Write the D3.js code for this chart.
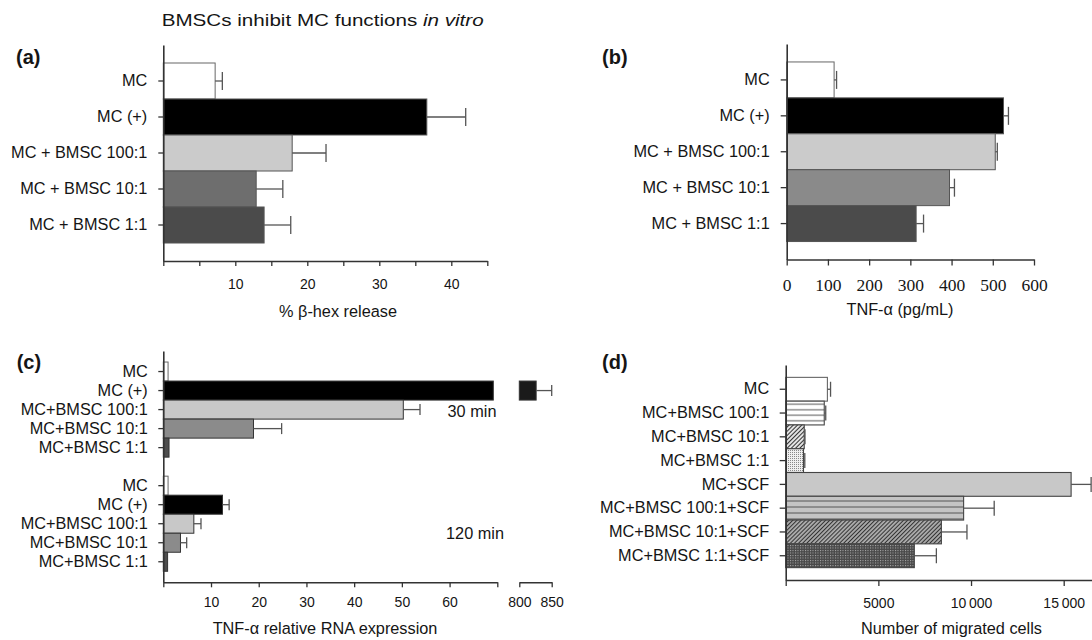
<!DOCTYPE html>
<html><head><meta charset="utf-8">
<script src="https://cdn.jsdelivr.net/npm/d3@7/dist/d3.min.js"></script>
<style>
html,body{margin:0;padding:0;background:#fff;}
svg{display:block;font-family:"Liberation Sans",Arial,Helvetica,sans-serif;}
</style></head><body>
<script>
// ---------- data ----------
const labelsAB = ["MC", "MC (+)", "MC + BMSC 100:1", "MC + BMSC 10:1", "MC + BMSC 1:1"];
const hexRelease = [7.2, 36.6, 17.9, 12.9, 14.0];
const hexError = [1.0, 5.4, 4.7, 3.7, 3.7];
const hexTicks = [0, 5, 10, 15, 20, 25, 30, 35, 40, 45];
const hexTickLabels = [10, 20, 30, 40];

const tnfProtein = [115, 526, 506, 395, 314];
const tnfProteinError = [6, 12, 5, 12, 18];
const tnfTicks = [0, 100, 200, 300, 400, 500, 600];

const labelsC = ["MC", "MC (+)", "MC+BMSC 100:1", "MC+BMSC 10:1", "MC+BMSC 1:1"];
const timepoints = ["30 min", "120 min"];
const rna30 = [1.0, 826, 50.3, 18.9, 1.2];
const rna30Error = [0, 24, 3.5, 5.9, 0];
const rna120 = [1.0, 12.4, 6.4, 3.6, 0.9];
const rna120Error = [0, 1.4, 1.5, 1.3, 0];
const rnaTicks = [0, 10, 20, 30, 40, 50, 60, 70];
const rnaTickLabels = [10, 20, 30, 40, 50, 60];
const rnaBreakTicks = [800, 850];

const labelsD = ["MC", "MC+BMSC 100:1", "MC+BMSC 10:1", "MC+BMSC 1:1", "MC+SCF",
  "MC+BMSC 100:1+SCF", "MC+BMSC 10:1+SCF", "MC+BMSC 1:1+SCF"];
const migrated = [2250, 2080, 1000, 960, 15400, 9600, 8400, 6940];
const migratedError = [170, 80, 40, 70, 1080, 1650, 1380, 1190];
const migTicks = [0, 5000, 10000, 15000];
const migTickLabels = ["", "5000", "10\u2009000", "15\u2009000"];

// ---------- styles ----------
const fillsA = ["#ffffff", "#000000", "#cbcbcb", "#6e6e6e", "#4b4b4b"];
const fillsB = ["#ffffff", "#000000", "#cbcbcb", "#8a8a8a", "#4b4b4b"];
const fillsC = ["#ffffff", "#000000", "#c8c8c8", "#8b8b8b", "#4d4d4d"];
const fillsD = ["#ffffff", "url(#hlw)", "url(#dgl)", "url(#dtl)", "#c8c8c8", "url(#hlg)", "url(#dgd)", "url(#dtd)"];
const SANS = '"Liberation Sans", Arial, Helvetica, sans-serif';
const SERIF = '"Liberation Serif", "Times New Roman", serif';
const INK = "#151515";

const svg = d3.select("body").append("svg").attr("width", 1092).attr("height", 640);
svg.append("rect").attr("width", 1092).attr("height", 640).attr("fill", "#fff");

// ---------- patterns ----------
const defs = svg.append("defs");
function hLines(id, bg, fg, h) {
  const p = defs.append("pattern").attr("id", id).attr("patternUnits", "userSpaceOnUse")
    .attr("width", 8).attr("height", h);
  p.append("rect").attr("width", 8).attr("height", h).attr("fill", bg);
  p.append("line").attr("x1", 0).attr("x2", 8).attr("y1", h / 2).attr("y2", h / 2)
    .attr("stroke", fg).attr("stroke-width", 1);
}
function diag(id, bg, fg, s) {
  const p = defs.append("pattern").attr("id", id).attr("patternUnits", "userSpaceOnUse")
    .attr("width", s).attr("height", s).attr("patternTransform", "rotate(45)");
  p.append("rect").attr("width", s).attr("height", s).attr("fill", bg);
  p.append("line").attr("x1", 0.5).attr("x2", 0.5).attr("y1", 0).attr("y2", s)
    .attr("stroke", fg).attr("stroke-width", 1);
}
function dots(id, bg, fg, s) {
  const p = defs.append("pattern").attr("id", id).attr("patternUnits", "userSpaceOnUse")
    .attr("width", s).attr("height", s);
  p.append("rect").attr("width", s).attr("height", s).attr("fill", bg);
  p.append("rect").attr("x", 0).attr("y", 0).attr("width", 1).attr("height", 1).attr("fill", fg);
}
hLines("hlw", "#ffffff", "#555", 5.5);
hLines("hlg", "#c4c4c4", "#555", 6);
diag("dgl", "#e2e2e2", "#333", 3);
diag("dgd", "#aaaaaa", "#333", 2.9);
dots("dtl", "#eeeeee", "#888", 2);
dots("dtd", "#4a4a4a", "#b0b0b0", 2.5);

// ---------- helpers ----------
function styleAxis(sel, size, family) {
  sel.attr("font-size", null).attr("font-family", null);
  sel.select(".domain").attr("stroke", "#333").attr("stroke-width", 1.6);
  sel.selectAll(".tick line").attr("stroke", "#333").attr("stroke-width", 1.3);
  sel.selectAll("text").attr("font-size", size).style("font-family", family).attr("fill", INK);
}
function drawBars(g, rows, x, y, o) {
  const xmax = x.range()[1];
  g.selectAll(null).data(rows).join("rect")
    .attr("x", x(0)).attr("y", d => y(d.key))
    .attr("width", d => Math.min(x(d.value), o.clip ? xmax - o.clip : Infinity) - x(0))
    .attr("height", y.bandwidth())
    .attr("fill", d => d.fill).attr("stroke", d => d.fill === "#ffffff" ? "#666" : o.stroke)
    .attr("stroke-width", o.sw);
  const eb = rows.filter(d => d.err > 0 && x(d.value) <= xmax);
  const cy = d => y(d.key) + y.bandwidth() / 2;
  g.selectAll(null).data(eb).join("line")
    .attr("x1", d => x(d.value)).attr("x2", d => x(d.value + d.err))
    .attr("y1", cy).attr("y2", cy).attr("stroke", "#555").attr("stroke-width", 1.3);
  g.selectAll(null).data(eb).join("line")
    .attr("x1", d => x(d.value + d.err)).attr("x2", d => x(d.value + d.err))
    .attr("y1", d => cy(d) - o.cap).attr("y2", d => cy(d) + o.cap)
    .attr("stroke", "#555").attr("stroke-width", 1.3);
}
function text(x, y, str, o = {}) {
  return svg.append("text").attr("x", x).attr("y", y).text(str)
    .attr("font-size", o.size || 16.3).style("font-family", o.family || SANS)
    .attr("font-weight", o.weight || "normal").attr("fill", INK)
    .attr("text-anchor", o.anchor || "start");
}

// ---------- title ----------
const title = svg.append("text").attr("x", 161.7).attr("y", 25.5)
  .attr("font-size", 16.5).style("font-family", SANS).attr("fill", INK)
  .attr("textLength", 322).attr("lengthAdjust", "spacingAndGlyphs");
title.append("tspan").text("BMSCs inhibit MC functions ");
title.append("tspan").attr("font-style", "italic").text("in vitro");

// ---------- panel (a) ----------
{
  const g = svg.append("g");
  const x = d3.scaleLinear().domain([0, 45]).range([163.3, 487.3]);
  const y = d3.scaleBand().domain(labelsAB).range([45, 261]).paddingInner(0).paddingOuter(0.5);
  const rows = labelsAB.map((k, i) => ({ key: k, value: hexRelease[i], err: hexError[i], fill: fillsA[i] }));
  drawBars(g, rows, x, y, { stroke: "#555", sw: 1, cap: 9 });
  g.append("g").attr("transform", "translate(0,261)")
    .call(d3.axisBottom(x).tickValues(hexTicks).tickFormat(d => hexTickLabels.includes(d) ? d : "")
      .tickSize(5).tickSizeOuter(0).tickPadding(13)).call(styleAxis, 14, SANS);
  g.append("g").attr("transform", "translate(163.3,0)")
    .call(d3.axisLeft(y).tickSize(5).tickPadding(11).tickSizeOuter(0)).call(styleAxis, 16.3, SANS);
  text(16, 63.5, "(a)", { size: 20, weight: "bold" });
  text(338, 317, "% β-hex release", { anchor: "middle" });
}

// ---------- panel (b) ----------
{
  const g = svg.append("g");
  const x = d3.scaleLinear().domain([0, 600]).range([786.7, 1034]);
  const y = d3.scaleBand().domain(labelsAB).range([44, 259.5]).paddingInner(0).paddingOuter(0.5);
  const rows = labelsAB.map((k, i) => ({ key: k, value: tnfProtein[i], err: tnfProteinError[i], fill: fillsB[i] }));
  drawBars(g, rows, x, y, { stroke: "#555", sw: 1, cap: 9 });
  g.append("g").attr("transform", "translate(0,259.5)")
    .call(d3.axisBottom(x).tickValues(tnfTicks).tickSize(6).tickSizeOuter(0).tickPadding(13))
    .call(styleAxis, 17.5, SERIF);
  g.append("g").attr("transform", "translate(786.7,0)")
    .call(d3.axisLeft(y).tickSize(6).tickPadding(11).tickSizeOuter(0)).call(styleAxis, 16.3, SANS);
  text(602, 63.5, "(b)", { size: 20, weight: "bold" });
  text(900, 315, "TNF-α (pg/mL)", { anchor: "middle" });
}

// ---------- panel (c) ----------
{
  const g = svg.append("g");
  const x = d3.scaleLinear().domain([0, 70]).range([163.3, 497.3]);
  const x2 = d3.scaleLinear().domain([800, 850]).range([519.3, 551.7]);
  const keys = d3.range(11);
  const y = d3.scaleBand().domain(keys).range([351, 582.3]).paddingInner(0).paddingOuter(0.58);
  const rows = [];
  labelsC.forEach((l, i) => rows.push({ key: i, label: l, value: rna30[i], err: rna30Error[i], fill: fillsC[i] }));
  labelsC.forEach((l, i) => rows.push({ key: i + 6, label: l, value: rna120[i], err: rna120Error[i], fill: fillsC[i] }));
  drawBars(g, rows, x, y, { stroke: "#333", sw: 1, cap: 5.5, clip: 4 });
  // broken-axis segment
  const big = rows.filter(d => d.value >= x2.domain()[0]);
  const cy = d => y(d.key) + y.bandwidth() / 2;
  g.selectAll(null).data(big).join("rect")
    .attr("x", x2(800)).attr("y", d => y(d.key)).attr("width", d => x2(d.value) - x2(800))
    .attr("height", y.bandwidth()).attr("fill", "#1a1a1a").attr("stroke", "#333");
  g.selectAll(null).data(big).join("line")
    .attr("x1", d => x2(d.value)).attr("x2", d => x2(d.value + d.err)).attr("y1", cy).attr("y2", cy)
    .attr("stroke", "#555").attr("stroke-width", 1.3);
  g.selectAll(null).data(big).join("line")
    .attr("x1", d => x2(d.value + d.err)).attr("x2", d => x2(d.value + d.err))
    .attr("y1", d => cy(d) - 5.5).attr("y2", d => cy(d) + 5.5).attr("stroke", "#555").attr("stroke-width", 1.3);
  g.append("g").attr("transform", "translate(0,582.3)")
    .call(d3.axisBottom(x).tickValues(rnaTicks).tickFormat(d => rnaTickLabels.includes(d) ? d : "")
      .tickSize(5).tickSizeOuter(0).tickPadding(10)).call(styleAxis, 14, SANS);
  g.append("g").attr("transform", "translate(0,582.3)")
    .call(d3.axisBottom(x2).tickValues(rnaBreakTicks).tickSize(5).tickSizeOuter(0).tickPadding(10))
    .call(styleAxis, 14, SANS);
  const labelByKey = new Map(rows.map(d => [d.key, d.label]));
  g.append("g").attr("transform", "translate(163.3,0)")
    .call(d3.axisLeft(y).tickValues(rows.map(d => d.key)).tickFormat(k => labelByKey.get(k))
      .tickSize(5).tickPadding(10.5).tickSizeOuter(0)).call(styleAxis, 16.3, SANS);
  text(472, 416.5, timepoints[0], { anchor: "middle" });
  text(475, 539, timepoints[1], { anchor: "middle" });
  text(16.7, 368.5, "(c)", { size: 20, weight: "bold" });
  text(325, 634, "TNF-α relative RNA expression", { anchor: "middle" });
}

// ---------- panel (d) ----------
{
  const g = svg.append("g");
  const x = d3.scaleLinear().domain([0, 16500]).range([785.7, 1091.5]);
  const y = d3.scaleBand().domain(labelsD).range([365, 580]).paddingInner(0).paddingOuter(0.52);
  const rows = labelsD.map((k, i) => ({ key: k, value: migrated[i], err: migratedError[i], fill: fillsD[i] }));
  drawBars(g, rows, x, y, { stroke: "#444", sw: 1.1, cap: 7.5 });
  g.append("g").attr("transform", "translate(0,580)")
    .call(d3.axisBottom(x).tickValues(migTicks).tickFormat((d, i) => migTickLabels[i])
      .tickSize(6).tickSizeOuter(0).tickPadding(12)).call(styleAxis, 14, SANS);
  g.append("g").attr("transform", "translate(785.7,0)")
    .call(d3.axisLeft(y).tickSize(6).tickPadding(10.5).tickSizeOuter(0)).call(styleAxis, 16.3, SANS);
  text(602, 368.5, "(d)", { size: 20, weight: "bold" });
  text(951.5, 634, "Number of migrated cells", { anchor: "middle" });
}
</script>
</body></html>
